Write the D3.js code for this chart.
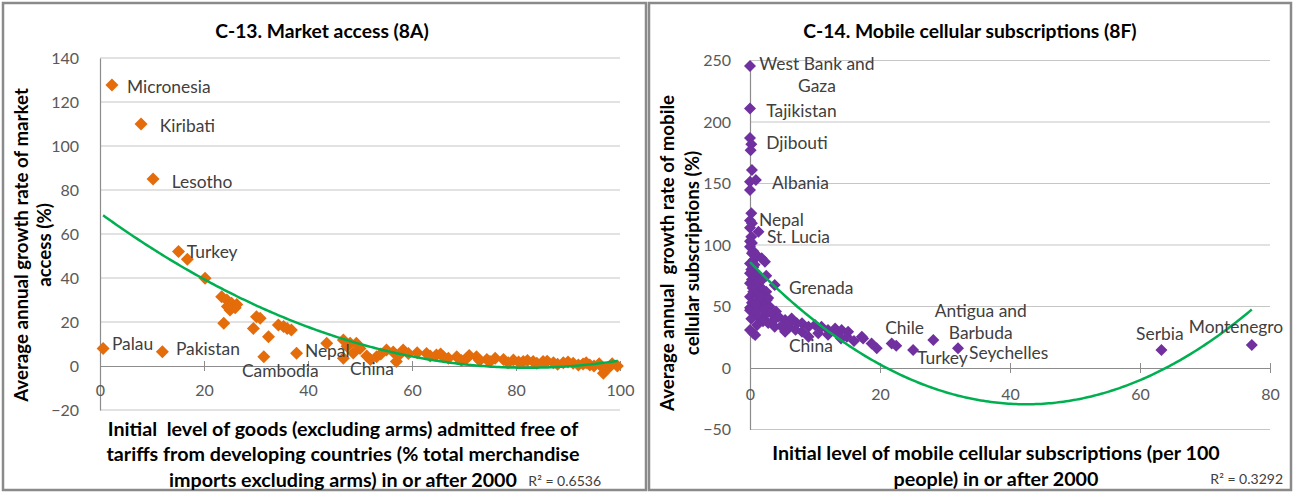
<!DOCTYPE html>
<html>
<head>
<meta charset="utf-8">
<script src="https://cdn.jsdelivr.net/npm/d3@7"></script>
<style>
  html, body { margin: 0; padding: 0; background: #fff; }
  svg { display: block; font-family: Lato, "Liberation Sans", sans-serif; }
</style>
</head>
<body>
<svg id="chart" width="1295" height="494"></svg>
<script>
// ---------------- DATA ----------------
// C-13: Market access (8A)
const leftX = [2.3, 7.9, 10.2, 15.1, 16.8, 0.6, 12, 20.2, 23.4, 24.4, 25.3, 26.3, 25, 23.8, 30.1, 30.8, 29.5, 32.4, 31.5,
  34.3, 35.3, 36.8, 37.8, 43.6, 46.8, 48.1, 49.3, 46.8, 48.7, 51.3, 53.2, 55.1, 56.4, 57, 58.3, 59.3, 62.8, 64.7, 66,
  68.6, 70.5, 72.4, 74.4, 75, 77.6, 79.5, 81.4, 83.3, 85.2, 87.2, 89.1, 91, 92.9, 94.2, 96.8, 98, 99.5,
  47.5, 50, 52, 54, 57.5, 61, 63.5, 65.5, 67, 69.5, 71, 73, 76, 78.5, 80.5, 82.2, 84, 86, 88, 90, 92, 93.5, 95, 96, 97, 98.5,
  26, 24.5, 36];
const leftY = [127.7, 110, 85, 52, 48.5, 8, 6.5, 39.9, 31.5, 30, 28.5, 28, 25.5, 19.4, 22.4, 21.7, 17.1, 13.3, 4.2,
  18.6, 17.9, 16.4, 5.8, 10.3, 11.8, 10.3, 10.3, 3.5, 5.9, 4.5, 4.2, 7.3, 6.4, 2, 7.3, 5.7, 5.7, 5, 4.2,
  4.2, 3.5, 4.2, 3, 2, 3, 2.7, 2, 2, 2, 1.5, 1.5, 1.2, 0.9, 0.5, -3.3, -0.3, 0,
  9, 8, 3, 5.5, 5, 6, 4.5, 5.5, 3.5, 2.5, 4.8, 2.5, 3.5, 1.5, 1.8, 2.5, 1.2, 2.2, 0.8, 1.8, 0.5, 1.5, 0, 1, -1.5, 1,
  26.5, 27, 17];
const leftTicksX = [0, 20, 40, 60, 80, 100];
const leftTicksY = [-20, 0, 20, 40, 60, 80, 100, 120, 140];
const leftLabelNames = ["Micronesia", "Kiribati", "Lesotho", "Turkey", "Palau", "Pakistan", "Cambodia", "Nepal", "China"];
const leftLabelX = [5.2, 11.5, 13.8, 16.7, 2.3, 14.6, 27.3, 39.4, 48.1];
const leftLabelY = [127.3, 109.5, 84, 52.3, 10.5, 8.2, -1.8, 7.3, -0.9];
const leftTrend = [0.0104, -1.71, 69.5]; // quadratic trendline a, b, c
const leftR2 = "R² = 0.6536";

// C-14: Mobile cellular subscriptions (8F)
const rightX = [0, 0, 0, 0.2, 0.1, 0.3, 0, 0.9, 0, 0.2, 0, 0.3, 0, 1.3, 0.2, 0, 0.3, 0, 0.5, 0.3, 1, 1.8, 2.3, 0, 0.5, 0.2,
  0, 0.5, 1, 0.3, 1.5, 0, 0.8, 1.8, 3.8, 2.5, 0.5, 1.2, 0, 1.3, 2.6, 0.3, 1.8, 0, 0, 0.8, 2.3, 3.3, 4.4, 5.4, 6.4, 7.2, 8,
  9, 10, 11, 12, 13.1, 14.1, 15.1, 17.2, 18.7, 17.4, 19.5, 21.8, 22.5, 25.1, 28.2, 32, 63.3, 77.2,
  0, 0.8, 0.5, 3.8, 5.4, 8, 10.5, 9, 5.8, 2.8, 13.3, 14.9, 1.5, 2, 1, 3, 4, 2, 1, 2.5, 6, 7, 12, 14, 16,
  0.6, 1.2, 0.4, 1.6, 0.9, 2.1, 3.5, 4.8, 0.2, 1.1, 2.8, 3.2, 1.9, 0.7];
const rightY = [245.5, 211, 187, 182, 177, 161, 151.5, 152.8, 144.7, 125.8, 120, 117.6, 114, 110.8, 106.7, 103, 101.6, 98.6,
  95, 93.2, 91.9, 89.2, 86.4, 85, 82, 80, 77, 78.3, 75, 72, 72, 69, 66, 64.8, 67.5, 62, 62, 60, 58, 55.3, 55.3, 53, 51, 49,
  47, 44.5, 43, 44.5, 41.7, 39, 40.3, 36.3, 36.3, 33.6, 35, 33.6, 30.9, 32.2, 30.9, 29.5, 25.5, 20, 24, 16, 20, 18, 14.6,
  22.8, 16, 14.6, 18.7,
  30.9, 26.8, 28.2, 33.6, 29.5, 29.5, 28.2, 25.5, 35, 36.6, 28.2, 25.5, 40, 38, 48, 50, 46, 58, 68, 75, 33, 31, 27, 24, 22,
  88, 70, 65, 58, 52, 47, 38, 34, 40, 35, 57, 45, 72, 84];
const rightTicksX = [0, 20, 40, 60, 80];
const rightTicksY = [-50, 0, 50, 100, 150, 200, 250];
const rightLabelNames = ["West Bank and\nGaza", "Tajikistan", "Djibouti", "Albania", "Nepal", "St. Lucia", "Grenada", "China",
  "Chile", "Turkey", "Antigua and\nBarbuda", "Seychelles", "Serbia", "Montenegro"];
const rightLabelX = [10.3, 2.5, 2.5, 3.4, 1.4, 2.6, 6, 6, 20.8, 25.7, 35.5, 33.7, 59.4, 67.5];
const rightLabelY = [248, 209.8, 183.7, 151.2, 120.8, 107.2, 65.9, 18.7, 33.3, 8.9, 46.8, 13.3, 28.5, 34.1];
const rightTrend = [0.064, -5.44, 86.1];
const rightR2 = "R² = 0.3292";

// ---------------- DRAWING ----------------
const svg = d3.select("#chart");
svg.append("rect").attr("width", 1295).attr("height", 494).attr("fill", "#fff");

const panels = [
  {
    frame: [3, 3, 643, 487],
    title: "C-13. Market access (8A)", titleX: 322,
    xs: d3.scaleLinear().domain([0, 100]).range([100, 620]),
    ys: d3.scaleLinear().domain([-20, 140]).range([410, 58]),
    X: leftX, Y: leftY, ticksX: leftTicksX, ticksY: leftTicksY,
    color: "#E46C0A", r: 6.5,
    names: leftLabelNames, lx: leftLabelX, ly: leftLabelY,
    trend: leftTrend, r2: leftR2, r2X: 601, r2Y: 480,
    xTitle: ["Initial  level of goods (excluding arms) admitted free of",
             "tariffs from developing countries (% total merchandise",
             "imports excluding arms) in or after 2000"],
    xTitleX: 343, xTitleY: [428, 453, 479],
    yTitle: ["Average annual growth rate of market", "access (%)"],
    yTitleX: [21, 44], yTitleY: 245,
    xLabelDY: 25, yLabelDX: 21
  },
  {
    frame: [649, 3, 642, 487],
    title: "C-14. Mobile cellular subscriptions (8F)", titleX: 970,
    xs: d3.scaleLinear().domain([0, 80]).range([750, 1270]),
    ys: d3.scaleLinear().domain([-50, 250]).range([429.5, 60.5]),
    X: rightX, Y: rightY, ticksX: rightTicksX, ticksY: rightTicksY,
    color: "#7030A0", r: 6,
    names: rightLabelNames, lx: rightLabelX, ly: rightLabelY,
    trend: rightTrend, r2: rightR2, r2X: 1283, r2Y: 478,
    xTitle: ["Initial level of mobile cellular subscriptions (per 100",
             "people) in or after 2000"],
    xTitleX: 996, xTitleY: [452, 478],
    yTitle: ["Average annual  growth rate of mobile", "cellular subscriptions (%)"],
    yTitleX: [667, 692], yTitleY: 253,
    xLabelDY: 27, yLabelDX: 19
  }
];

const boldTitle = 19.3, boldX = 19.7, boldY = 18.7, tickFont = 16, labelFont = 17.4;

panels.forEach(p => {
  const g = svg.append("g");
  const [x0, x1] = p.xs.range();

  // frame
  g.append("rect").attr("x", p.frame[0]).attr("y", p.frame[1])
    .attr("width", p.frame[2]).attr("height", p.frame[3])
    .attr("fill", "#fff").attr("stroke", "#8a8a8a").attr("stroke-width", 2.5);

  // title
  g.append("text").attr("x", p.titleX).attr("y", 30)
    .attr("text-anchor", "middle").attr("dominant-baseline", "central")
    .attr("font-weight", "bold").attr("font-size", boldTitle).attr("fill", "#000")
    .text(p.title);

  // gridlines
  g.selectAll(".grid").data(p.ticksY.filter(v => v !== 0)).enter().append("line")
    .attr("x1", x0).attr("x2", x1)
    .attr("y1", d => p.ys(d)).attr("y2", d => p.ys(d))
    .attr("stroke", "#c6c6c6").attr("stroke-width", 1.2);

  // y axis
  const yAxis = d3.axisLeft(p.ys).tickValues(p.ticksY).tickSize(0).tickPadding(p.yLabelDX);
  const ya = g.append("g").attr("transform", `translate(${x0},0)`).call(yAxis);
  ya.select(".domain").attr("stroke", "#8c8c8c").attr("stroke-width", 1.2);
  ya.selectAll("text").attr("font-size", tickFont).attr("fill", "#595959")
    .attr("font-family", "Lato, sans-serif");

  // x axis at y = 0
  const xAxis = d3.axisBottom(p.xs).tickValues(p.ticksX).tickSizeInner(6).tickSizeOuter(0).tickPadding(p.xLabelDY - 12);
  const xa = g.append("g").attr("transform", `translate(0,${p.ys(0)})`).call(xAxis);
  xa.select(".domain").attr("stroke", "#8c8c8c").attr("stroke-width", 1.2);
  xa.selectAll(".tick line").attr("y1", -5).attr("y2", 5).attr("stroke", "#8c8c8c");
  xa.selectAll(".tick").filter(d => d === 0).select("line").remove();
  xa.selectAll("text").attr("font-size", tickFont).attr("fill", "#595959")
    .attr("font-family", "Lato, sans-serif");

  // markers
  const diamond = (r) => `M0,${-r}L${r},0L0,${r}L${-r},0Z`;
  g.selectAll(".pt").data(p.X.map((x, i) => [x, p.Y[i]])).enter().append("path")
    .attr("d", diamond(p.r))
    .attr("transform", d => `translate(${p.xs(d[0])},${p.ys(d[1])})`)
    .attr("fill", p.color);

  // trendline
  const xmin = d3.min(p.X), xmax = d3.max(p.X);
  const tx = d3.range(0, 201).map(i => xmin + (xmax - xmin) * i / 200);
  const [a, b, c] = p.trend;
  g.append("path")
    .datum(tx.map(x => [x, a * x * x + b * x + c]))
    .attr("d", d3.line().x(d => p.xs(d[0])).y(d => p.ys(d[1])))
    .attr("fill", "none").attr("stroke", "#00B050").attr("stroke-width", 2.5);

  // point labels
  p.names.forEach((name, i) => {
    const lines = name.split("\n");
    const t = g.append("text")
      .attr("x", p.xs(p.lx[i])).attr("y", p.ys(p.ly[i]))
      .attr("text-anchor", lines.length > 1 ? "middle" : "start")
      .attr("dominant-baseline", "central")
      .attr("font-size", labelFont).attr("fill", "#404040");
    lines.forEach((ln, j) => {
      t.append("tspan").attr("x", p.xs(p.lx[i])).attr("dy", j === 0 ? 0 : 22).text(ln);
    });
  });

  // x axis title
  p.xTitle.forEach((ln, j) => {
    g.append("text").attr("x", p.xTitleX).attr("y", p.xTitleY[j])
      .attr("text-anchor", "middle").attr("dominant-baseline", "central")
      .attr("font-weight", "bold").attr("font-size", boldX).attr("fill", "#000")
      .style("white-space", "pre")
      .text(ln);
  });

  // y axis title
  p.yTitle.forEach((ln, j) => {
    g.append("text")
      .attr("transform", `translate(${p.yTitleX[j]},${p.yTitleY}) rotate(-90)`)
      .attr("text-anchor", "middle").attr("dominant-baseline", "central")
      .attr("font-weight", "bold").attr("font-size", boldY).attr("fill", "#000")
      .style("white-space", "pre")
      .text(ln);
  });

  // R²
  g.append("text").attr("x", p.r2X).attr("y", p.r2Y)
    .attr("text-anchor", "end").attr("dominant-baseline", "central")
    .attr("font-size", 14).attr("fill", "#404040")
    .text(p.r2);
});
</script>
</body>
</html>
